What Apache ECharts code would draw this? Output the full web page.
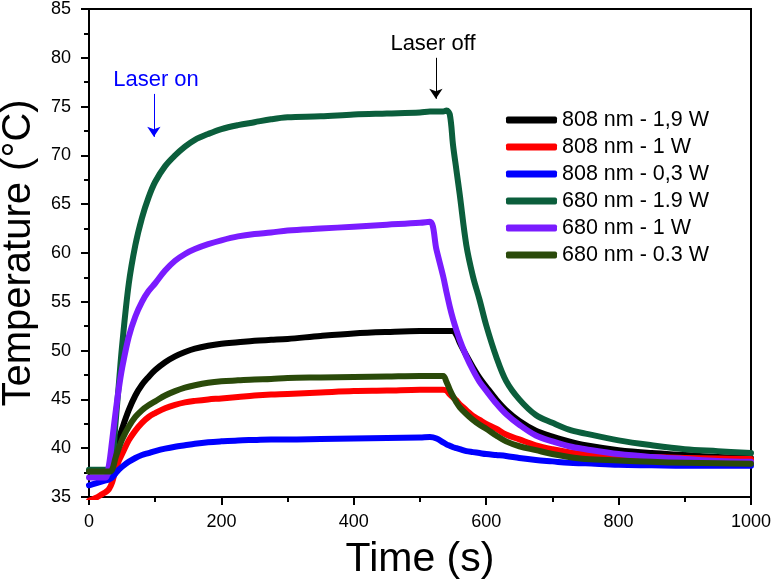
<!DOCTYPE html>
<html>
<head>
<meta charset="utf-8">
<script src="https://cdn.jsdelivr.net/npm/echarts@6/dist/echarts.min.js"></script>
<style>
html,body{margin:0;padding:0;background:#fff;}
#chart{width:774px;height:580px;}
</style>
</head>
<body>
<div id="chart"></div>
<script>
// ---- data ----
const time = [0, 10, 20, 25, 30, 35, 40, 45, 50, 60, 70, 80, 90, 100, 115, 130, 145, 160, 180, 200, 225, 250, 275, 300, 350, 400, 450, 500, 515, 525, 535, 540, 545, 550, 555, 560, 570, 580, 590, 600, 615, 630, 650, 675, 700, 725, 750, 800, 850, 900, 950, 1000];

const black808_19 = [37.6,37.6,37.6,37.6,37.6, 37.8,39.5,40.9,42.0,43.9, 45.4,46.5,47.3,48.0,48.8, 49.4,49.85,50.2,50.5,50.7, 50.85,51.0,51.1,51.2,51.5, 51.75,51.9,52.0,52.0,52.0, 52.0,52.0,52.0,52.0,51.6, 50.8,49.5,48.3,47.2,46.3, 45.0,43.9,42.8,41.8,41.2, 40.7,40.3,39.8,39.5,39.3, 39.1,39.0];
const red808_1 = [34.6,34.9,35.3,35.5,35.8, 36.5,37.8,38.7,39.4,40.8, 41.8,42.6,43.2,43.6,44.1, 44.45,44.7,44.85,45.0,45.1, 45.25,45.4,45.5,45.55,45.7, 45.85,45.9,46.0,46.0,46.0, 46.0,45.9,45.5,45.2,44.9, 44.5,43.9,43.3,42.9,42.5, 42.0,41.4,40.9,40.3,39.9, 39.6,39.4,39.2,39.1,39.0, 38.95,38.9];
const blue808_03 = [36.2,36.4,36.6,36.7,36.8, 37.0,37.4,37.8,38.1,38.6, 39.0,39.3,39.5,39.7,39.95, 40.15,40.3,40.45,40.6,40.7, 40.8,40.85,40.9,40.9,40.95, 41.0,41.05,41.1,41.15,41.0, 40.6,40.4,40.25,40.1,40.0, 39.9,39.7,39.6,39.5,39.4, 39.3,39.2,39.0,38.8,38.65, 38.5,38.45,38.3,38.25,38.2, 38.2,38.2];
const green680_19 = [37.8,37.8,37.8,37.8,37.8, 38.5,42.5,46.5,50.5,56.8, 60.8,63.6,65.7,67.3,68.9, 70.0,70.9,71.6,72.2,72.7, 73.1,73.4,73.7,73.9,74.0, 74.2,74.3,74.4,74.5,74.5, 74.5,74.6,74.2,71.0,68.5, 66.0,60.8,57.6,55.2,52.6, 49.4,46.9,45.0,43.4,42.6, 41.9,41.5,40.8,40.3,39.9, 39.7,39.5];
const purple680_1 = [37.0,37.0,37.0,37.0,38.2, 40.8,43.6,46.1,48.2,51.4, 53.5,55.0,56.1,56.9,58.2, 59.2,59.9,60.4,60.9,61.3, 61.7,61.95,62.1,62.3,62.5, 62.7,62.9,63.1,63.2,60.3, 57.6,56.0,54.5,53.2,52.1, 51.1,49.4,48.0,46.8,45.9, 44.6,43.5,42.4,41.3,40.7, 40.2,39.9,39.4,39.1,38.9, 38.7,38.6];
const olive680_03 = [37.6,37.6,37.6,37.6,37.6, 37.8,39.0,40.0,40.9,42.2, 43.2,43.9,44.4,44.8,45.4, 45.85,46.2,46.45,46.7,46.85, 46.95,47.05,47.1,47.2,47.25, 47.3,47.35,47.4,47.4,47.4, 47.4,46.8,46.0,45.3,44.7, 44.2,43.5,42.9,42.4,42.0, 41.3,40.7,40.2,39.8,39.4, 39.1,38.9,38.75,38.6,38.5, 38.45,38.4];

const seriesNames = ['808 nm - 1,9 W', '808 nm - 1 W', '808 nm - 0,3 W', '680 nm - 1.9 W', '680 nm - 1 W', '680 nm - 0.3 W'];
const seriesValues = [black808_19, red808_1, blue808_03, green680_19, purple680_1, olive680_03];
const seriesColors = ['#000000', '#ff0000', '#0000ff', '#0b5e3c', '#7a1cff', '#2a4a0a'];

// annotation arrows: [time, yStart, yEnd]
const laserOnArrow = [98, 76.3, 71.9];
const laserOffArrow = [524, 80.0, 75.8];

const FONT = 'Liberation Sans, Arial, sans-serif';

function pairs(vals){ return time.map((t,i)=>[t, vals[i]]); }

function arrowLine(arr, color){
  return {
    silent: true, animation: false,
    symbol: ['none', 'arrow'], symbolSize: 10,
    label: { show: false },
    emphasis: { disabled: true },
    lineStyle: { color: color, width: 1, type: 'solid' },
    itemStyle: { color: color },
    data: [[{ coord: [arr[0], arr[1]] }, { coord: [arr[0], arr[2]] }]]
  };
}

const series = seriesNames.map((name, k) => {
  const s = {
    name: name,
    type: 'line',
    data: pairs(seriesValues[k]),
    showSymbol: false,
    symbol: 'none',
    smooth: 0.35,
    color: seriesColors[k],
    lineStyle: { width: 6, color: seriesColors[k], cap: 'round', join: 'round' },
    animation: false,
    z: 2 + k
  };
  if (k === 2) s.markLine = arrowLine(laserOnArrow, '#0000ff');
  if (k === 0) s.markLine = arrowLine(laserOffArrow, '#000000');
  return s;
});

const chart = echarts.init(document.getElementById('chart'), null, { renderer: 'canvas' });
chart.setOption({
  animation: false,
  backgroundColor: '#ffffff',
  grid: { left: 89, right: 23, top: 9, bottom: 83, show: true, borderColor: '#000', borderWidth: 2, backgroundColor: 'transparent', outerBoundsMode: 'none', containLabel: false },
  legend: {
    orient: 'vertical',
    left: 501, top: 104,
    itemWidth: 51, itemHeight: 7, itemGap: 5,
    icon: 'roundRect',
    data: seriesNames,
    textStyle: { fontFamily: FONT, fontSize: 21.5, color: '#000', lineHeight: 21 }
  },
  xAxis: {
    type: 'value', min: 0, max: 1000, interval: 200,
    name: 'Time (s)', nameLocation: 'middle', nameGap: 42,
    nameTextStyle: { fontFamily: FONT, fontSize: 41, color: '#000' },
    axisLine: { show: true, onZero: false, lineStyle: { color: '#000', width: 2 } },
    axisTick: { show: true, inside: false, length: 8, lineStyle: { color: '#000', width: 2 } },
    minorTick: { show: true, splitNumber: 2, length: 5, lineStyle: { color: '#000', width: 2 } },
    axisLabel: { fontFamily: FONT, fontSize: 18, color: '#000', margin: 16, formatter: v => String(v) },
    splitLine: { show: false }
  },
  yAxis: {
    type: 'value', min: 35, max: 85, interval: 5,
    name: 'Temperature (°C)', nameLocation: 'middle', nameGap: 50,
    nameTextStyle: { fontFamily: FONT, fontSize: 40, color: '#000' },
    axisLine: { show: true, onZero: false, lineStyle: { color: '#000', width: 2 } },
    axisTick: { show: true, inside: false, length: 8, lineStyle: { color: '#000', width: 2 } },
    minorTick: { show: true, splitNumber: 2, length: 5, lineStyle: { color: '#000', width: 2 } },
    axisLabel: { fontFamily: FONT, fontSize: 18, color: '#000', margin: 18, formatter: v => String(v) },
    splitLine: { show: false }
  },
  graphic: [
    { type: 'text', style: { text: 'Laser on', x: 156, y: 80, textAlign: 'center', textVerticalAlign: 'middle', font: '22px ' + FONT, fill: '#0000ff' } },
    { type: 'text', style: { text: 'Laser off', x: 433, y: 44, textAlign: 'center', textVerticalAlign: 'middle', font: '22px ' + FONT, fill: '#000000' } }
  ],
  series: series
});
</script>
</body>
</html>
